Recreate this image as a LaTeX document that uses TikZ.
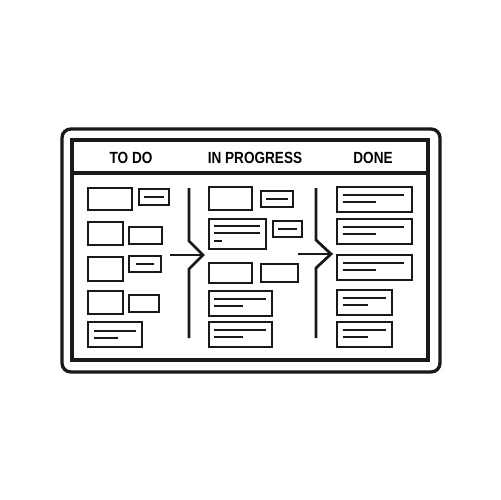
\documentclass[tikz,border=0pt]{standalone}
\usepackage{fontspec}
\newfontfamily\headfont[FakeStretch=0.84]{Liberation Sans}
\usepackage{tikz}
\usetikzlibrary{positioning}

\begin{document}
\begin{tikzpicture}[
    x=0.02cm, y=-0.02cm,
    frame/.style={draw=black!90, line width=1.9pt},
    card/.style={draw=black!90, line width=1.6pt},
    txt/.style={draw=black!90, line width=1.6pt, line cap=butt},
    flow/.style={draw=black!90, line width=1.6pt, line join=miter},
    head/.style={font=\headfont\bfseries\fontsize{9.2}{10}\selectfont, anchor=base, inner sep=0pt}
]
\useasboundingbox (0,0) rectangle (500,500);

% Board frame
\draw[frame, rounded corners=5] (62,129) rectangle (440,372);
\draw[frame] (72,140) rectangle (428,360);
\draw[frame] (72,173) -- (428,173);

% Column headers
\node[head] (todo) at (131,163) {TO DO};
\node[head] (prog) at (255,163) {IN PROGRESS};
\node[head] (done) at (373,163) {DONE};

% To do cards
\draw[card] (88,188) rectangle (132,210);
\draw[card] (139,189) rectangle (169,205);
\draw[txt] (144,197) -- (164,197);
\draw[card] (88,222) rectangle (123,245);
\draw[card] (129,227) rectangle (162,244);
\draw[card] (88,257) rectangle (123,281);
\draw[card] (129,256) rectangle (161,272);
\draw[txt] (136,264) -- (154,264);
\draw[card] (88,291) rectangle (123,314);
\draw[card] (129,295) rectangle (159,312);
\draw[card] (88,322) rectangle (142,347);
\draw[txt] (94,331) -- (136,331);
\draw[txt] (94,338) -- (118,338);

% In progress cards
\draw[card] (209,187) rectangle (252,210);
\draw[card] (261,191) rectangle (293,207);
\draw[txt] (266,199) -- (288,199);
\draw[card] (209,219) rectangle (266,249);
\draw[txt] (214,226) -- (260,226);
\draw[txt] (214,233) -- (260,233);
\draw[txt] (214,241) -- (222,241);
\draw[card] (273,221) rectangle (302,237);
\draw[txt] (278,229) -- (297,229);
\draw[card] (209,263) rectangle (252,283);
\draw[card] (261,264) rectangle (298,282);
\foreach \y in {291,322} {
    \draw[card] (209,\y) rectangle (272,\y+25);
    \draw[txt] (214,\y+8) -- (266,\y+8);
    \draw[txt] (214,\y+15) -- (243,\y+15);
}

% Done cards
\foreach \y in {187,219,255} {
    \draw[card] (337,\y) rectangle (412,\y+25);
    \draw[txt] (343,\y+8) -- (404,\y+8);
    \draw[txt] (343,\y+15) -- (376,\y+15);
}
\foreach \y in {290,322} {
    \draw[card] (337,\y) rectangle (392,\y+25);
    \draw[txt] (343,\y+8) -- (386,\y+8);
    \draw[txt] (343,\y+15) -- (368,\y+15);
}

% Flow arrows
\draw[flow] (189,188) -- (189,241) -- (203,255) -- (189,269) -- (189,338);
\draw[flow] (170,255) -- (203,255);
\draw[flow] (316,188) -- (316,240) -- (331,254) -- (316,268) -- (316,338);
\draw[flow] (298,254) -- (331,254);

\end{tikzpicture}
\end{document}
